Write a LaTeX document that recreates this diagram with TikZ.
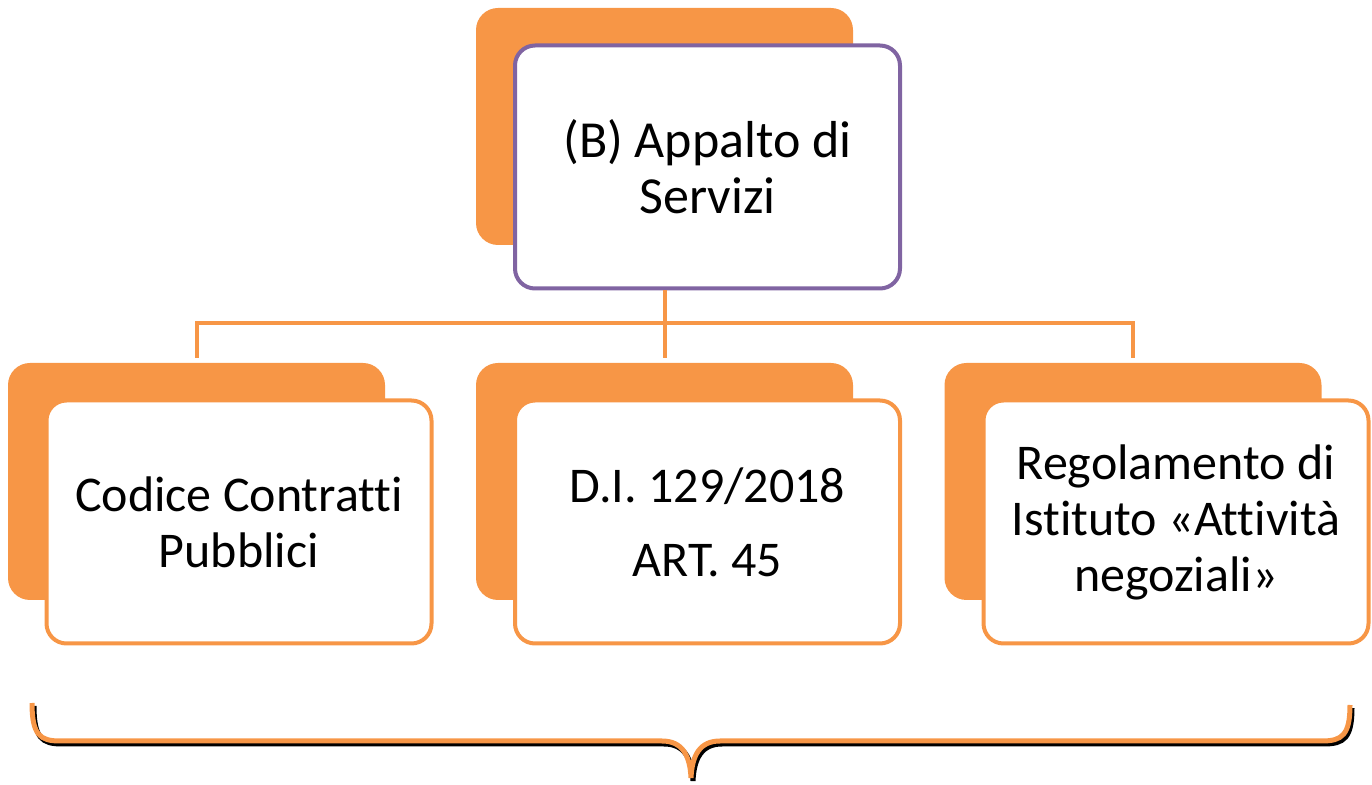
\documentclass[tikz,border=0pt]{standalone}
\usepackage{fontspec}
\setmainfont[Ligatures=NoCommon]{Carlito}
\definecolor{accorange}{HTML}{F79646}
\definecolor{accpurple}{HTML}{8064A2}
\tikzset{
  backcard/.style={fill=accorange, rounded corners=11pt, minimum width=188.5pt, minimum height=118.5pt, inner sep=0pt},
  card/.style={draw=accorange, line width=2pt, fill=white, rounded corners=10pt, minimum width=192.5pt, minimum height=121.5pt, align=center, font=\fontsize{25}{28}\selectfont},
  link/.style={draw=accorange, line width=2pt},
  bracepath/.style={line width=2.5pt}
}

\begin{document}
\begin{tikzpicture}[x=0.5pt,y=-0.5pt]
  \useasboundingbox (0,0) rectangle (1372,785);
  % Top box
  \node[backcard] (topback) at (664.5,126.5) {};
  \node[card, draw=accpurple, font=\fontsize{26}{28}\selectfont] (topfront) at (707.5,167) {(B) Appalto di\\Servizi};
  % Bottom row
  \node[backcard] (back1) at (196.5,481.5) {};
  \node[card] (front1) at (239,522) {Codice Contratti\\Pubblici};
  \node[backcard] (back2) at (664.5,481.5) {};
  \node[card] (front2) at (707.5,522) {D.I. 129/2018\\[9pt]ART. 45};
  \node[backcard] (back3) at (1133,481.5) {};
  \node[card] (front3) at (1176,522) {Regolamento di\\Istituto «Attività\\negoziali»};
  % Connectors
  \coordinate (fork) at (664.5,323);
  \draw[link] (topfront.south -| topback.center) -- (fork);
  \draw[link, shorten >=2.5pt] (fork) -| (back1.north);
  \draw[link, shorten >=2.5pt] (fork) -- (back2.north);
  \draw[link, shorten >=2.5pt] (fork) -| (back3.north);
  % Brace with shadow
  \foreach \dx/\dy/\col in {2/3/black, 0/0/accorange} {
    \draw[bracepath, draw=\col, shift={(\dx,\dy)}]
      (32,703) .. controls (32,735) and (40,741) .. (60,741) -- (662,741)
      .. controls (682,741) and (690,755) .. (691,778)
      .. controls (692,755) and (700,741) .. (720,741) -- (1322,741)
      .. controls (1342,741) and (1350,735) .. (1350,705);
  }
\end{tikzpicture}
\end{document}
